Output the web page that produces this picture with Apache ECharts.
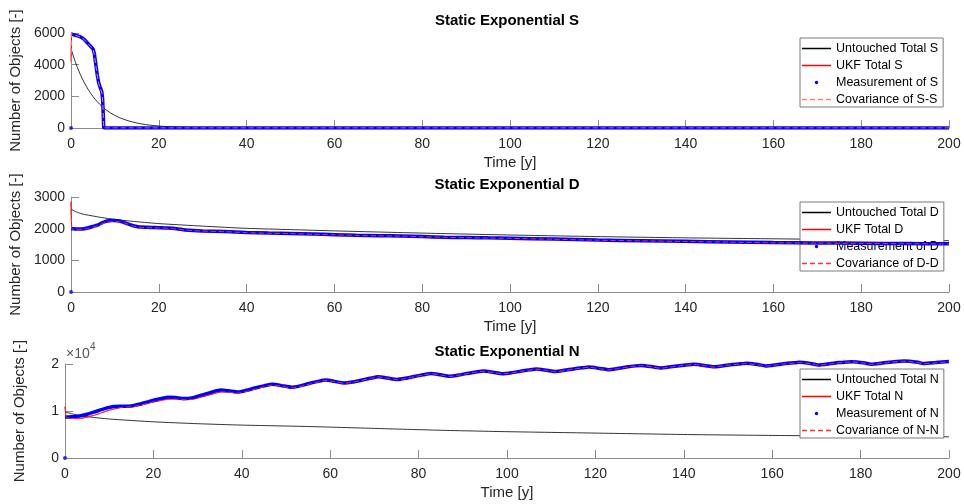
<!DOCTYPE html>
<html>
<head>
<meta charset="utf-8">
<script src="https://cdn.jsdelivr.net/npm/echarts@6/dist/echarts.min.js"></script>
<style>html,body{margin:0;padding:0;background:#fff}#c{width:964px;height:504px}</style>
</head>
<body>
<div id="c"></div>
<script>
// ---------- Panel S ----------
const tS    = [0, 0.1, 0.5, 1, 1.5, 2, 2.5, 3, 3.5, 4, 4.5, 5, 5.3, 5.7, 6, 6.3, 6.6, 7, 7.2, 7.45, 8, 10, 50, 100, 150, 200];
const measS = [5950, 5940, 5900, 5860, 5820, 5770, 5700, 5600, 5450, 5300, 5150, 5000, 4700, 3900, 3300, 2850, 2600, 2300, 1800, 0, 0, 0, 0, 0, 0, 0];
const ukfS  = [4200, 5960, 5900, 5850, 5810, 5760, 5690, 5590, 5440, 5290, 5140, 4980, 4650, 3850, 3250, 2800, 2550, 2250, 1750, 0, 0, 0, 0, 0, 0, 0];
const tUntS = [0, 1, 2, 3, 4, 5, 6, 7, 8, 10, 12, 14, 16, 18, 20, 22, 25, 30, 40, 200];
const untS  = [5000, 4150, 3450, 2870, 2390, 1990, 1650, 1370, 1140, 790, 550, 380, 260, 180, 125, 85, 50, 20, 0, 0];

// ---------- Panel D ----------
const tD    = [0, 0.2, 1, 2, 3, 4, 5, 6, 7, 8, 9, 10, 11, 12, 13, 14, 15, 16, 18, 20, 22, 24, 26, 28, 30, 35, 40, 45, 50, 55, 60, 65, 70, 75, 80, 85, 90, 95, 100, 110, 120, 130, 140, 150, 160, 170, 180, 190, 200];
const measD = [2000, 2000, 1990, 1990, 2000, 2030, 2070, 2110, 2180, 2240, 2260, 2260, 2240, 2200, 2150, 2100, 2070, 2050, 2040, 2030, 2020, 2000, 1960, 1940, 1930, 1910, 1880, 1860, 1850, 1830, 1810, 1790, 1780, 1770, 1750, 1730, 1720, 1710, 1700, 1670, 1640, 1620, 1600, 1580, 1560, 1550, 1540, 1530, 1520];
const ukfD  = [2850, 2000, 1980, 1980, 1990, 2010, 2050, 2090, 2150, 2200, 2220, 2230, 2220, 2190, 2140, 2090, 2060, 2040, 2030, 2020, 2010, 1990, 1955, 1935, 1925, 1905, 1875, 1855, 1845, 1825, 1805, 1785, 1775, 1765, 1745, 1725, 1715, 1705, 1695, 1665, 1635, 1615, 1595, 1575, 1555, 1545, 1535, 1525, 1515];
const tUntD = [0, 1, 2, 3, 5, 7, 10, 15, 20, 30, 40, 50, 60, 80, 100, 120, 140, 160, 180, 200];
const untD  = [2620, 2540, 2490, 2450, 2400, 2350, 2290, 2220, 2160, 2080, 2010, 1970, 1930, 1860, 1800, 1750, 1710, 1680, 1650, 1620];

// ---------- Panel N ----------
const tN = [0, 0.3, 1, 2, 3, 5, 7, 9, 11, 13,
  15, 17, 19, 21, 23.3, 25, 27, 29, 31, 33,
  35.3, 37, 39.2, 41, 43, 45, 47, 49, 51.3, 53,
  55, 57, 59, 61, 63.2, 65, 67, 69, 70.9, 73,
  75.1, 77, 79, 81, 82.8, 85, 87, 89, 91, 93,
  94.7, 97, 99, 101, 103, 105, 106.6, 109, 110.9, 113,
  115, 117, 118.5, 121, 122.8, 125, 127, 129, 130.4, 133,
  134.7, 137, 139, 141, 142.3, 145, 146.6, 149, 151, 153,
  154.2, 157, 158.5, 161, 163, 165, 166.1, 169, 170.4, 173,
  175, 177, 178, 181, 182.3, 185, 187, 189, 189.9, 193,
  194.2, 197, 200];
const measN = [8700, 8720, 8750, 8800, 8900, 9300, 9900, 10500, 10950, 11000,
  11050, 11500, 12000, 12500, 12950, 12850, 12650, 12850, 13400, 13950,
  14450, 14300, 14050, 14400, 14900, 15350, 15700, 15400, 15050, 15300,
  15800, 16250, 16600, 16300, 15950, 16150, 16550, 16950, 17300, 17000,
  16700, 16950, 17350, 17700, 18000, 17700, 17400, 17650, 18000, 18300,
  18500, 18200, 17950, 18150, 18450, 18750, 18950, 18650, 18400, 18650,
  18950, 19200, 19350, 19050, 18800, 19050, 19350, 19600, 19700, 19400,
  19150, 19400, 19650, 19850, 19950, 19650, 19400, 19650, 19900, 20050,
  20150, 19850, 19600, 19850, 20100, 20250, 20350, 20050, 19800, 20050,
  20300, 20450, 20500, 20200, 19950, 20200, 20450, 20600, 20650, 20350,
  20100, 20300, 20550];
const ukfN = [10900, 8700, 8500, 8400, 8350, 8700, 9200, 9850, 10400, 10800,
  10900, 11200, 11700, 12100, 12500, 12550, 12400, 12500, 13000, 13500,
  14050, 14000, 13800, 14150, 14650, 15150, 15500, 15250, 14900, 15150,
  15650, 16100, 16500, 16250, 15900, 16100, 16500, 16900, 17250, 16950,
  16650, 16900, 17300, 17650, 17950, 17650, 17350, 17600, 17950, 18250,
  18450, 18150, 17900, 18100, 18400, 18700, 18900, 18600, 18350, 18600,
  18900, 19150, 19300, 19000, 18750, 19000, 19300, 19550, 19650, 19350,
  19100, 19350, 19600, 19800, 19900, 19600, 19350, 19600, 19850, 20000,
  20100, 19800, 19550, 19800, 20050, 20200, 20300, 20000, 19750, 20000,
  20250, 20400, 20450, 20150, 19900, 20150, 20400, 20550, 20600, 20300,
  20050, 20250, 20500];
const tUntN = [0, 2, 5, 10, 20, 30, 40, 55, 70, 85, 100, 120, 140, 160, 180, 200];
const untN  = [9800, 9300, 8800, 8300, 7700, 7300, 7000, 6700, 6300, 5900, 5600, 5300, 5000, 4800, 4650, 4500];

// first measurement sample of every state sits at the origin
const originPoint = [0, 0];

// axis settings
const xTicks = {min: 0, max: 200, interval: 20};
const yAxesCfg = [
  {max: 6000, interval: 2000},
  {max: 3000, interval: 1000},
  {max: 20000, interval: 10000}
];
const titles = ['Static Exponential S', 'Static Exponential D', 'Static Exponential N'];
const letters = ['S', 'D', 'N'];

const FONT = "'Liberation Sans', Arial, Helvetica, sans-serif";
const grids = [
  {left: 65, right: 15, top: 33, height: 95},
  {left: 65, right: 15, top: 197, height: 95},
  {left: 65, right: 15, top: 364, height: 94}
];

const zip = (t, v) => t.map((x, i) => [x, v[i]]);
const svgIcon = inner => 'image://data:image/svg+xml;charset=utf-8,' + encodeURIComponent(
  "<svg xmlns='http://www.w3.org/2000/svg' width='29' height='10'>" + inner + "</svg>");
const lineIcon = (color, dash) => svgIcon("<line x1='0' y1='5' x2='29' y2='5' stroke='" + color +
  "' stroke-width='1.5'" + (dash ? " stroke-dasharray='" + dash + "'" : "") + "/>");
const dotIcon = svgIcon("<circle cx='14.5' cy='5' r='1.7' fill='#0000ff'/>");

const panelData = [
  {unt: zip(tUntS, untS), ukf: zip(tS, ukfS), meas: zip(tS, measS), cov: zip(tS, ukfS), smooth: false, covColor: '#ff8080'},
  {unt: zip(tUntD, untD), ukf: zip(tD, ukfD), meas: zip(tD, measD), cov: zip(tD, ukfD), smooth: 0.2, covColor: '#ff3030'},
  {unt: zip(tUntN, untN), ukf: zip(tN, ukfN), meas: zip(tN, measN), cov: zip(tN, ukfN), smooth: 0.2, covColor: '#ff3030'}
];

const xAxis = [], yAxis = [], series = [], legend = [], title = [];
panelData.forEach((p, i) => {
  const L = letters[i];
  const names = ['Untouched Total ' + L, 'UKF Total ' + L, 'Measurement of ' + L, 'Covariance of ' + L + '-' + L];
  title.push({
    text: titles[i], left: 507, top: grids[i].top - 20, textAlign: 'center', padding: 0,
    textStyle: {fontFamily: FONT, fontSize: 15, fontWeight: 'bold', color: '#000'}
  });
  xAxis.push({
    type: 'value', gridIndex: i, min: xTicks.min, max: xTicks.max, interval: xTicks.interval,
    name: 'Time [y]', nameLocation: 'middle', nameGap: 27,
    nameTextStyle: {fontFamily: FONT, fontSize: 15, color: '#262626'},
    axisLine: {show: true, onZero: false, lineStyle: {color: '#8c8c8c', width: 1}},
    axisTick: {show: true, inside: true, length: 8, lineStyle: {color: '#8c8c8c'}},
    axisLabel: {show: true, margin: 9, fontFamily: FONT, fontSize: 14, color: '#262626', showMinLabel: true, showMaxLabel: true},
    splitLine: {show: false}
  });
  const yc = yAxesCfg[i];
  yAxis.push({
    type: 'value', gridIndex: i, min: 0, max: yc.max, interval: yc.interval,
    name: 'Number of Objects [-]', nameLocation: 'middle', nameGap: 38, nameRotate: 90,
    nameTextStyle: {fontFamily: FONT, fontSize: 15, color: '#262626'},
    axisLine: {show: true, onZero: false, lineStyle: {color: '#8c8c8c', width: 1}},
    axisTick: {show: true, inside: true, length: 8, lineStyle: {color: '#8c8c8c'}},
    axisLabel: {show: true, margin: 6, fontFamily: FONT, fontSize: 14, color: '#262626',
      formatter: i === 2 ? (v => String(v / 10000)) : (v => String(v))},
    splitLine: {show: false}
  });
  const common = {type: 'line', xAxisIndex: i, yAxisIndex: i, symbol: 'none', showSymbol: false, animation: false, clip: i !== 2, smooth: p.smooth};
  series.push(Object.assign({}, common, {name: names[0], data: p.unt, smooth: i === 0 ? 0.3 : p.smooth,
    lineStyle: {color: '#000', width: 0.8}, itemStyle: {color: '#000'}, z: 2}));
  series.push(Object.assign({}, common, {name: names[1], data: p.ukf,
    lineStyle: {color: '#ff0000', width: 1}, itemStyle: {color: '#ff0000'}, z: 3}));
  series.push(Object.assign({}, common, {name: names[2], data: p.meas,
    lineStyle: {color: '#0000ff', width: 3.5}, itemStyle: {color: '#0000ff'}, z: 4}));
  series.push({type: 'scatter', name: names[2], xAxisIndex: i, yAxisIndex: i, data: [originPoint],
    symbol: 'circle', symbolSize: 4, itemStyle: {color: '#0000ff'}, animation: false, z: 5, clip: false});
  series.push(Object.assign({}, common, {name: names[3], data: p.cov,
    lineStyle: {color: p.covColor, width: 1, type: [5, 3]}, itemStyle: {color: p.covColor}, z: 6}));
  legend.push({
    orient: 'vertical', left: 800, top: grids[i].top + 5,
    padding: [4, 5, 1, 2], itemGap: 4, itemWidth: 29, itemHeight: 10,
    backgroundColor: '#fff', borderColor: '#7a7a7a', borderWidth: 1, borderRadius: 0,
    selectedMode: false,
    textStyle: {fontFamily: FONT, fontSize: 12.5, color: '#000', padding: [0, 0, 0, 0]},
    data: [
      {name: names[0], icon: lineIcon('#000000')},
      {name: names[1], icon: lineIcon('#ff0000')},
      {name: names[2], icon: dotIcon},
      {name: names[3], icon: lineIcon(p.covColor, '5,3')}
    ]
  });
});

const chart = echarts.init(document.getElementById('c'), null, {renderer: 'canvas'});
chart.setOption({
  backgroundColor: '#fff',
  animation: false,
  title: title,
  grid: grids,
  xAxis: xAxis,
  yAxis: yAxis,
  legend: legend,
  series: series,
  graphic: [
    {type: 'text', left: 66, top: 347, style: {text: '\u00d710', fontFamily: FONT, fontSize: 14, fill: '#555'}},
    {type: 'text', left: 90, top: 342, style: {text: '4', fontFamily: FONT, fontSize: 10, fill: '#555'}}
  ]
});
</script>
</body>
</html>
